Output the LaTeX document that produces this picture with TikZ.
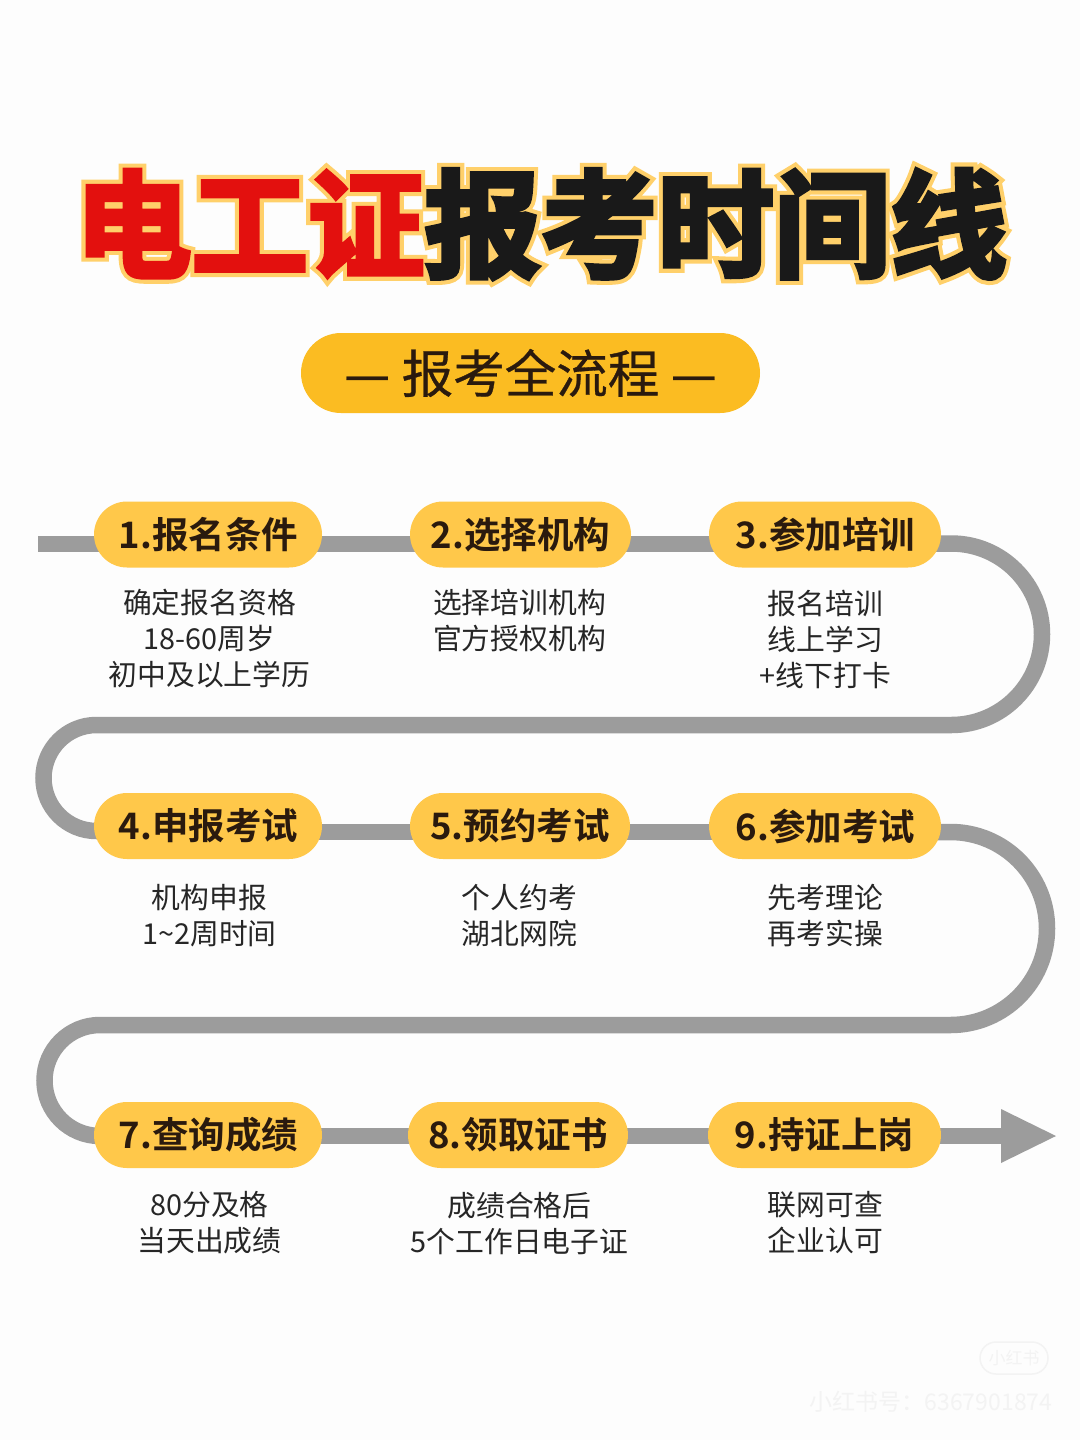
\documentclass[tikz,border=0pt]{standalone}
\usepackage{fontspec}
\usetikzlibrary{shapes.misc,backgrounds}
\setmainfont{Noto Sans CJK SC}[BoldFont=* Bold]
\newfontfamily\titlefont[UprightFont=* Bold,FakeBold=4]{Noto Sans CJK SC}
\newfontfamily\titleedge[UprightFont=* Bold,FakeBold=11]{Noto Sans CJK SC}
\newfontfamily\bannerfont[FakeBold=0.6]{Noto Sans CJK SC}
\definecolor{pagecolor}{HTML}{FDFDFD}
\definecolor{pillcolor}{HTML}{FFC84A}
\definecolor{bannercolor}{HTML}{FBBC22}
\definecolor{linecolor}{HTML}{9C9C9C}
\definecolor{inkcolor}{HTML}{2A1A0E}
\definecolor{deepred}{HTML}{E3100E}
\definecolor{edgecolor}{HTML}{FFD06A}
\definecolor{markcolor}{HTML}{F3F3F3}
\tikzset{
  steppill/.style={rounded rectangle,fill=pillcolor,text=inkcolor,inner sep=0pt,minimum height=66pt,font=\fontsize{36.5}{36}\selectfont\bfseries},
  steptext/.style={align=center,inner sep=0pt,text=black!85,font=\fontsize{28.8}{36}\selectfont},
  pathline/.style={draw=linecolor,line width=16.5pt},
}
\begin{document}
\begin{tikzpicture}[x=1pt,y=-1pt]
\useasboundingbox (0,0) rectangle (1080,1440);
% title
\node[inner sep=0pt,text=edgecolor,font=\fontsize{116.5}{116}\titleedge] (titleback) at (541,224) {电工证报考时间线};
\node[inner sep=0pt,font=\fontsize{116.5}{116}\titlefont] (title) at (541,224) {\textcolor{deepred}{电工证}\textcolor{black!90}{报考时间线}};
\node[rounded rectangle,fill=bannercolor,text=inkcolor,inner sep=0pt,minimum width=459pt,minimum height=80pt,font=\fontsize{51.5}{51}\bannerfont] (banner) at (530.5,373) {— 报考全流程 —};
% steps
\node[steppill,minimum width=228pt] (s1) at (208,534.5) {\hspace{1pt}1.报名条件};
\node[steppill,minimum width=221pt] (s2) at (520.5,534.5) {2.选择机构};
\node[steppill,minimum width=232pt] (s3) at (825,534.5) {\hspace{1pt}3.参加培训};
\node[steppill,minimum width=228pt] (s4) at (208,826) {\hspace{1pt}4.申报考试};
\node[steppill,minimum width=220pt] (s5) at (520,826) {5.预约考试};
\node[steppill,minimum width=232pt] (s6) at (825,826) {\hspace{1pt}6.参加考试};
\node[steppill,minimum width=228pt] (s7) at (208,1135) {\hspace{1pt}7.查询成绩};
\node[steppill,minimum width=220pt] (s8) at (518,1135) {8.领取证书};
\node[steppill,minimum width=233pt] (s9) at (824.5,1135) {9.持证上岗};
% texts
\node[steptext] (d1) at (209.5,639) {确定报名资格\\18-60周岁\\初中及以上学历};
\node[steptext] (d2) at (519.5,621) {选择培训机构\\官方授权机构};
\node[steptext] (d3) at (825.5,639) {报名培训\\线上学习\\+线下打卡};
\node[steptext] (d4) at (209.5,916) {机构申报\\1\textasciitilde 2周时间};
\node[steptext] (d5) at (519.5,916) {个人约考\\湖北网院};
\node[steptext] (d6) at (825.5,916) {先考理论\\再考实操};
\node[steptext] (d7) at (209.5,1223) {80分及格\\当天出成绩};
\node[steptext] (d8) at (519.5,1223) {成绩合格后\\5个工作日电子证};
\node[steptext] (d9) at (825.5,1223) {联网可查\\企业认可};
% watermark
\node[rounded rectangle,draw=markcolor,line width=1.5pt,text=markcolor,inner sep=0pt,minimum width=68pt,minimum height=32pt,font=\fontsize{17}{17}\selectfont] (logo) at (1014,1358) {小红书};
\node[inner sep=0pt,text=markcolor,font=\fontsize{23}{23}\selectfont] (mark) at (931,1402) {小红书号：6367901874};
% the line
\coordinate (start) at (38,544);
\coordinate (tip) at (1056,1136);
\begin{pgfonlayer}{background}
\fill[pagecolor] (0,0) rectangle (1080,1440);
\draw[pathline] (start) -- (s1.center |- start);
\draw[pathline] ([yshift=-9.5pt]s1.center) -- ([yshift=-9.5pt]s2.center);
\draw[pathline] ([yshift=-9.5pt]s2.center) -- ([yshift=-9.5pt]s3.center);
\draw[pathline,rounded corners=90.7pt] ([yshift=-9pt]s3.center) -- (1042,543.5) -- (1042,725) [rounded corners=53pt] -- (43.5,725) -- (43.5,831) -- ([yshift=-5pt]s4.center);
\draw[pathline] ([yshift=-6pt]s4.center) -- ([yshift=-6pt]s5.center);
\draw[pathline] ([yshift=-6pt]s5.center) -- ([yshift=-6pt]s6.center);
\draw[pathline,rounded corners=96.5pt] ([yshift=-6pt]s6.center) -- (1047,832) -- (1047,1025) [rounded corners=55.5pt] -- (44.5,1025) -- (44.5,1136) -- ([yshift=-1pt]s7.center);
\draw[pathline] ([yshift=-1pt]s7.center) -- ([yshift=-1pt]s8.center);
\draw[pathline] ([yshift=-1pt]s8.center) -- ([yshift=-1pt]s9.center);
\draw[pathline] ([yshift=-1pt]s9.center) -- (1001,1136);
\fill[linecolor] (tip) -- (1001,1109) -- (1001,1163) -- cycle;
\end{pgfonlayer}
\end{tikzpicture}
\end{document}
